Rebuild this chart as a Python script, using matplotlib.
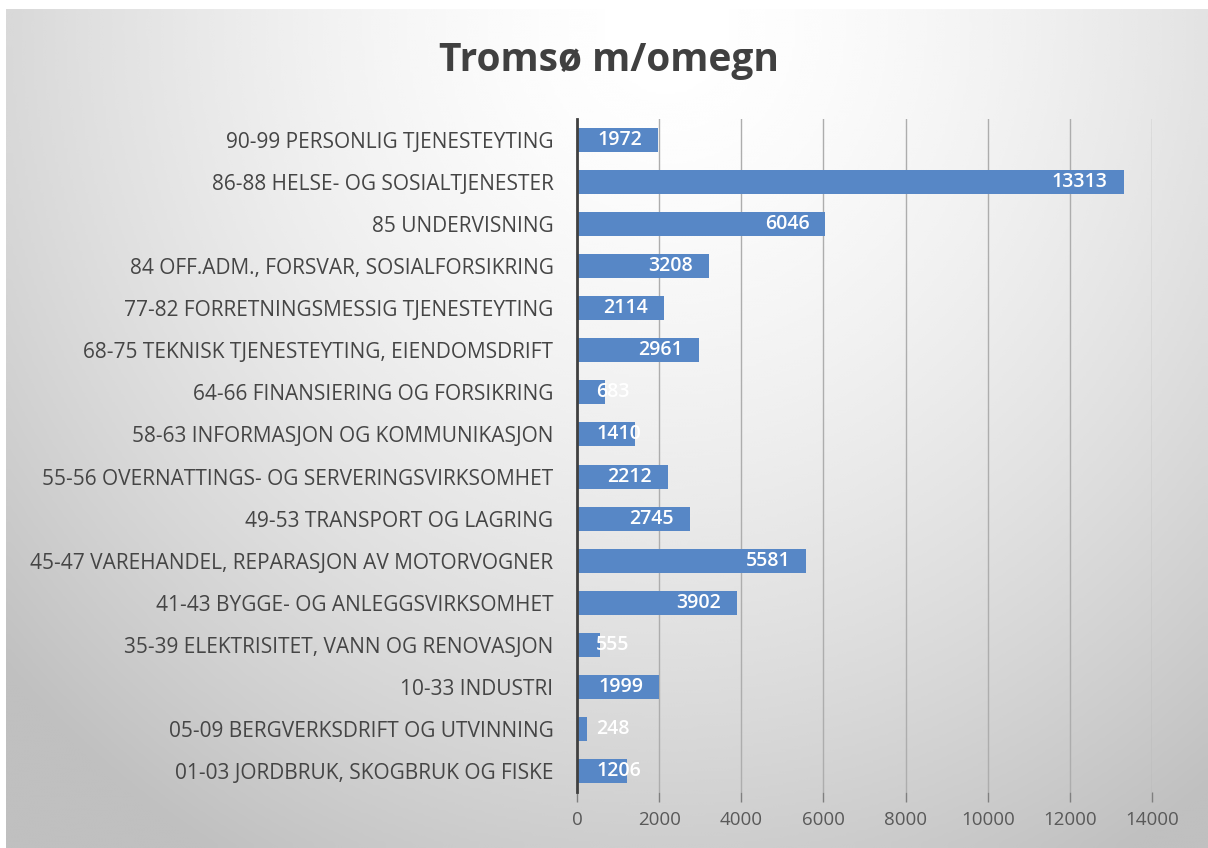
import numpy as np
import matplotlib
matplotlib.use("Agg")
import matplotlib.pyplot as plt

categories = [
    "01-03 JORDBRUK, SKOGBRUK OG FISKE",
    "05-09 BERGVERKSDRIFT OG UTVINNING",
    "10-33 INDUSTRI",
    "35-39 ELEKTRISITET, VANN OG RENOVASJON",
    "41-43 BYGGE- OG ANLEGGSVIRKSOMHET",
    "45-47 VAREHANDEL, REPARASJON AV MOTORVOGNER",
    "49-53 TRANSPORT OG LAGRING",
    "55-56 OVERNATTINGS- OG SERVERINGSVIRKSOMHET",
    "58-63 INFORMASJON OG KOMMUNIKASJON",
    "64-66 FINANSIERING OG FORSIKRING",
    "68-75 TEKNISK TJENESTEYTING, EIENDOMSDRIFT",
    "77-82 FORRETNINGSMESSIG TJENESTEYTING",
    "84 OFF.ADM., FORSVAR, SOSIALFORSIKRING",
    "85 UNDERVISNING",
    "86-88 HELSE- OG SOSIALTJENESTER",
    "90-99 PERSONLIG TJENESTEYTING",
]
values = [1206, 248, 1999, 555, 3902, 5581, 2745, 2212, 1410, 683,
          2961, 2114, 3208, 6046, 13313, 1972]
xticks = [0, 2000, 4000, 6000, 8000, 10000, 12000, 14000]
title = "Tromsø m/omegn"

W, H = 1208, 848
fig = plt.figure(figsize=(W / 100, H / 100), dpi=100)
fig.patch.set_facecolor("white")

# gradient background panel
bg = fig.add_axes([6 / W, 0, 1 - 6 / W, 1 - 9 / H])
bg.set_axis_off()
yy, xx = np.mgrid[0:1:300j, 0:1:400j]
d = np.sqrt(((xx - 0.55) / 0.75) ** 2 + ((yy - 0.02) / 1.15) ** 2)
d = np.clip(d, 0, 1)
shade = 1.0 - 0.25 * d ** 1.6
bg.imshow(shade, cmap="gray", vmin=0, vmax=1, aspect="auto",
          extent=[0, 1, 1, 0], interpolation="bicubic")
bg.set_xlim(0, 1)
bg.set_ylim(1, 0)

ax = fig.add_axes([577 / W, 1 - 792 / H, (1152 - 577) / W, (792 - 119) / H])
ax.set_facecolor("none")
y = np.arange(len(categories))
ax.barh(y, values, height=0.57, color="#5787c6", zorder=3)

ax.set_xlim(0, 14000)
ax.set_ylim(-0.5, len(categories) - 0.5)
ax.set_xticks(xticks)
ax.set_xticklabels([str(t) for t in xticks], fontsize=13.5, color="#595959",
                   family="Open Sans")
ax.set_yticks(y)
ax.set_yticklabels(categories, fontsize=15, color="#454545", family="Open Sans")
ax.tick_params(axis="y", length=0, pad=17)
ax.tick_params(axis="x", length=7, width=1, color="#7f7f7f", pad=7)
ax.grid(axis="x", color="#adadad", linewidth=1, zorder=0)
for s in ["top", "right", "bottom"]:
    ax.spines[s].set_visible(False)
ax.spines["left"].set_color("#404040")
ax.spines["left"].set_linewidth(2)
ax.spines["left"].set_zorder(4)

# value labels inside the bar end, pushed out from the base when too short
px = 14000 / (1152 - 577)
for yi, v in zip(y, values):
    w = len(str(v)) * 11 * px
    if v - 16 * px - w < 19 * px:
        ax.text(19 * px, yi, str(v), ha="left", va="center", color="white",
                fontsize=14, fontweight="semibold", family="Open Sans", zorder=5)
    else:
        ax.text(v - 16 * px, yi, str(v), ha="right", va="center", color="white",
                fontsize=14, fontweight="semibold", family="Open Sans", zorder=5)

fig.text(609 / W, 1 - 61 / H, title, ha="center", va="center", fontsize=28,
         fontweight="bold", color="#404040", family="Open Sans")

fig.savefig("out.png", dpi=100)
